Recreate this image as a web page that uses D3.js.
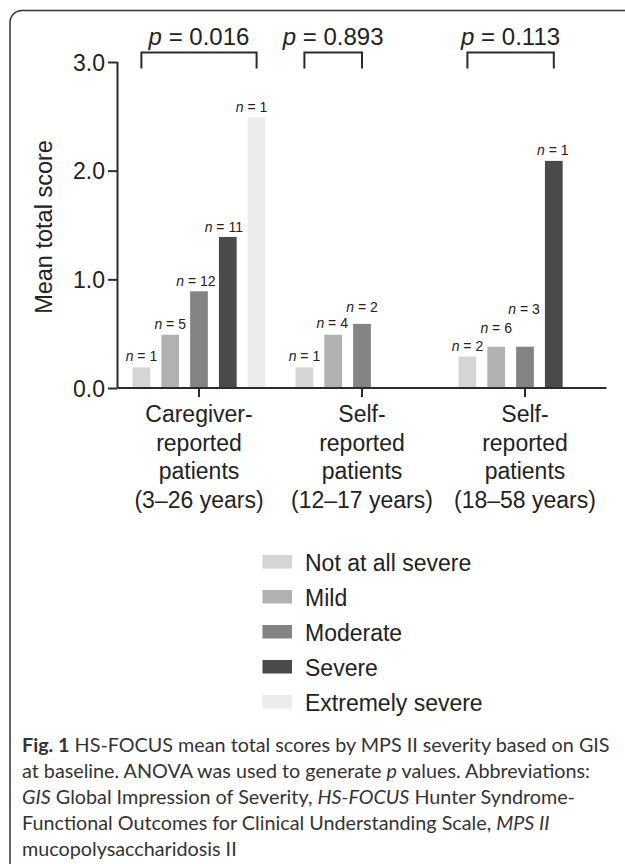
<!DOCTYPE html>
<html><head><meta charset="utf-8">
<script src="https://cdn.jsdelivr.net/npm/d3@7"></script>
<style>
html,body{margin:0;padding:0;background:#fff;}
svg{display:block;}
</style></head>
<body>
<svg id="chart" width="625" height="864"></svg>
<script>
// ---- data ----
const groups = ["Caregiver-reported patients (3–26 years)", "Self-reported patients (12–17 years)", "Self-reported patients (18–58 years)"];
const groupLabelLines = [
  ["Caregiver-", "reported", "patients", "(3–26 years)"],
  ["Self-", "reported", "patients", "(12–17 years)"],
  ["Self-", "reported", "patients", "(18–58 years)"]
];
const severities = ["Not at all severe", "Mild", "Moderate", "Severe", "Extremely severe"];
const severityColors = ["#d4d5d4", "#b0b1b0", "#838383", "#4a4a48", "#ececec"];
// mean total scores per group, index = severity
const caregiverValues = [0.19, 0.49, 0.89, 1.39, 2.49];
const selfTeenValues = [0.19, 0.49, 0.59];
const selfAdultValues = [0.29, 0.38, 0.38, 2.09];
const caregiverN = [1, 5, 12, 11, 1];
const selfTeenN = [1, 4, 2];
const selfAdultN = [2, 6, 3, 1];
const pValues = ["0.016", "0.893", "0.113"];
const yTicks = [0, 1, 2, 3];

const seriesValues = [caregiverValues, selfTeenValues, selfAdultValues];
const seriesN = [caregiverN, selfTeenN, selfAdultN];

// label nudges (layout only)
const labelLift = [[6, 6, 5, 5, 5], [6, 7, 12], [5, 14, 33, 6]];
const labelDx = [[0, 0, -3, -4, -5], [0, -1, 0], [0, 0, -1, -1]];

const svg = d3.select("#chart");
const ink = "#2b2b2b";
const txt = "#222";
const fontChart = "'Liberation Sans', Arial, Helvetica, sans-serif";

// frame
svg.append("rect")
  .attr("x", 10).attr("y", 10.5).attr("width", 640).attr("height", 870)
  .attr("rx", 12).attr("ry", 12)
  .attr("fill", "none").attr("stroke", "#333").attr("stroke-width", 1.5);

// scales
const x0 = d3.scaleBand().domain(groups).range([117.5, 606.5]).padding(0);
const x1 = d3.scaleBand().domain(d3.range(severities.length))
  .range([0, x0.bandwidth()]).paddingInner(0.385).paddingOuter(0.5225);
const y = d3.scaleLinear().domain([0, 3]).range([388, 62]);

// bars
const data = [];
groups.forEach((g, gi) => {
  seriesValues[gi].forEach((v, si) => {
    data.push({g, gi, si, v, n: seriesN[gi][si]});
  });
});

svg.append("g").selectAll("rect").data(data).join("rect")
  .attr("x", d => x0(d.g) + x1(d.si))
  .attr("width", x1.bandwidth())
  .attr("y", d => y(d.v))
  .attr("height", d => y(0) - y(d.v))
  .attr("fill", d => severityColors[d.si]);

// n labels
const nl = svg.append("g").attr("font-family", fontChart).attr("font-size", 14).attr("fill", txt)
  .attr("text-anchor", "middle");
data.forEach(d => {
  const t = nl.append("text")
    .attr("x", x0(d.g) + x1(d.si) + x1.bandwidth() / 2 + labelDx[d.gi][d.si])
    .attr("y", y(d.v) - labelLift[d.gi][d.si]);
  t.append("tspan").attr("font-style", "italic").text("n");
  t.append("tspan").text(" = " + d.n);
});

// y axis
const yAxis = d3.axisLeft(y).tickValues(yTicks).tickFormat(d3.format(".1f")).tickSize(9.5).tickPadding(3);
const gy = svg.append("g").attr("transform", "translate(117.5,0)").call(yAxis);
gy.select(".domain").attr("stroke", ink).attr("stroke-width", 2).attr("d", `M0,${y(3)}V${y(0)}`);
gy.selectAll(".tick line").attr("stroke", ink).attr("stroke-width", 2);
gy.selectAll(".tick text").attr("font-family", fontChart).attr("font-size", 23).attr("fill", txt)
  .attr("dy", "0.35em");

// x axis
const xAxis = d3.axisBottom(x0).tickSize(9).tickFormat("");
const gx = svg.append("g").attr("transform", `translate(0,${y(0)})`).call(xAxis);
gx.select(".domain").attr("stroke", ink).attr("stroke-width", 2).attr("d", "M117.5,0H606.5");
gx.selectAll(".tick line").attr("stroke", ink).attr("stroke-width", 2);

// category labels
const cl = svg.append("g").attr("font-family", fontChart).attr("font-size", 23).attr("fill", txt)
  .attr("text-anchor", "middle");
groups.forEach((g, gi) => {
  groupLabelLines[gi].forEach((line, li) => {
    cl.append("text").attr("x", x0(g) + x0.bandwidth() / 2).attr("y", 422 + li * 28.5).text(line);
  });
});

// y title
svg.append("text")
  .attr("transform", "translate(52,227) rotate(-90)")
  .attr("text-anchor", "middle")
  .attr("font-family", fontChart).attr("font-size", 23.5).attr("fill", txt)
  .text("Mean total score");

// brackets + p values
const br = svg.append("g");
groups.forEach((g, gi) => {
  const nb = seriesValues[gi].length;
  const xl = x0(g) + x1(0) + x1.bandwidth() / 2;
  const xr = x0(g) + x1(nb - 1) + x1.bandwidth() / 2;
  br.append("path")
    .attr("d", `M${xl},68.5V52.5H${xr}V68.5`)
    .attr("fill", "none").attr("stroke", ink).attr("stroke-width", 2);
  const t = br.append("text").attr("x", (xl + xr) / 2).attr("y", 45)
    .attr("text-anchor", "middle").attr("font-family", fontChart).attr("font-size", 24).attr("fill", txt);
  t.append("tspan").attr("font-style", "italic").text("p");
  t.append("tspan").text(" = " + pValues[gi]);
});

// legend
const lg = svg.append("g").attr("font-family", fontChart).attr("font-size", 23).attr("fill", txt);
severities.forEach((s, i) => {
  lg.append("rect").attr("x", 262.5).attr("y", 555 + i * 35).attr("width", 29.5).attr("height", 13.5)
    .attr("fill", severityColors[i]);
  lg.append("text").attr("x", 305).attr("y", 570.5 + i * 35).text(s);
});

// caption
const captionLines = [
  [["Fig. 1", "b"], [" HS-FOCUS mean total scores by MPS II severity based on GIS", ""]],
  [["at baseline. ANOVA was used to generate ", ""], ["p", "i"], [" values. Abbreviations:", ""]],
  [["GIS", "i"], [" Global Impression of Severity, ", ""], ["HS-FOCUS", "i"], [" Hunter Syndrome-", ""]],
  [["Functional Outcomes for Clinical Understanding Scale, ", ""], ["MPS II", "i"]],
  [["mucopolysaccharidosis II", ""]]
];
const cap = svg.append("g").attr("font-family", "Lato, 'Open Sans', sans-serif").attr("fill", "#333");
const capTexts = captionLines.map((line, li) => {
  const t = cap.append("text").attr("x", 22).attr("y", 752 + li * 26).attr("font-size", 20);
  line.forEach(([s, st]) => {
    const sp = t.append("tspan").text(s);
    if (st === "b") sp.attr("font-weight", "bold");
    if (st === "i") sp.attr("font-style", "italic");
  });
  return t;
});
const w0 = capTexts[0].node().getComputedTextLength();
const fs = Math.max(16, Math.min(23, 20 * 588 / w0));
capTexts.forEach(t => t.attr("font-size", fs));
</script>
</body></html>
